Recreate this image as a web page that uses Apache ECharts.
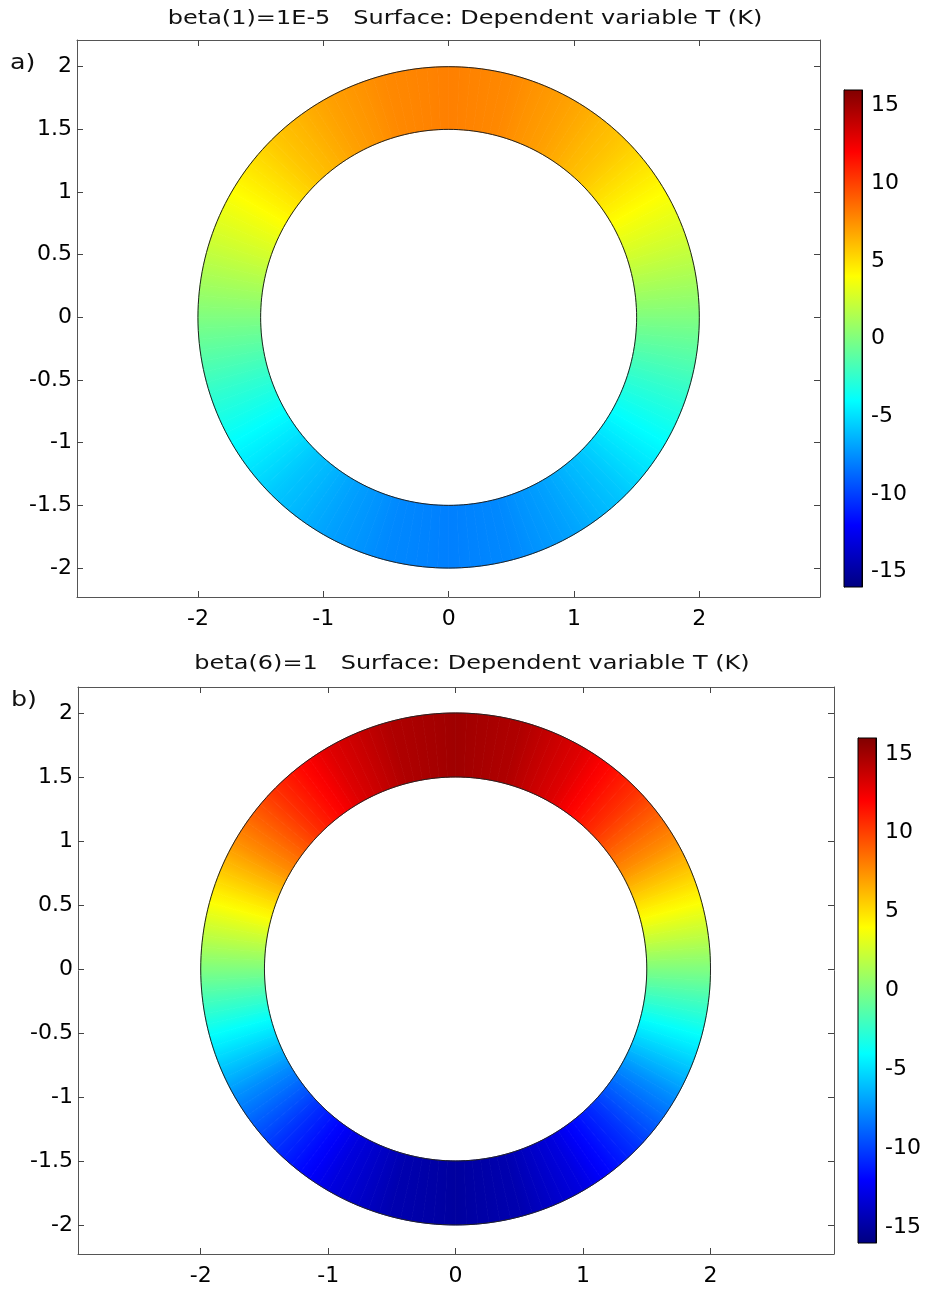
<!DOCTYPE html>
<html>
<head>
    <meta charset="utf-8">
    <title>Surface T</title>
    <script src="https://cdn.jsdelivr.net/npm/echarts@6/dist/echarts.min.js"></script>
    <style>
        html, body {margin: 0; padding: 0; background: #fff;}
        #main {width: 927px; height: 1289px;}
    </style>
</head>
<body>
<div id="main"></div>
<script>
    var angles = [0, 15, 30, 45, 60, 75, 90, 105, 120, 135, 150, 165,
        180, 195, 210, 225, 240, 255, 270, 285, 300, 315, 330, 345];
    var tempA = [0, 2.1, 4.0, 5.7, 6.9, 7.7, 8.0, 7.7, 6.9, 5.7, 4.0, 2.1,
        0, -2.1, -4.0, -5.7, -6.9, -7.7, -8.0, -7.7, -6.9, -5.7, -4.0, -2.1];
    var tempB = [0, 3.9, 7.5, 10.6, 13.0, 14.5, 15.0, 14.5, 13.0, 10.6, 7.5, 3.9,
        0, -3.9, -7.5, -10.6, -13.0, -14.5, -15.0, -14.5, -13.0, -10.6, -7.5, -3.9];
    var radii = [1.5, 2];                 // inner, outer
    var xTicks = [-2, -1, 0, 1, 2];
    var yTicks = [-2, -1.5, -1, -0.5, 0, 0.5, 1, 1.5, 2];
    var cbarTicks = [-15, -10, -5, 0, 5, 10, 15];
    var tRange = [-16, 16];

    var FONT = '"DejaVu Sans", Verdana, sans-serif';

    function clamp(v) { return Math.max(0, Math.min(1, v)); }
    function jet(T) {
        var t = (T - tRange[0]) / (tRange[1] - tRange[0]);
        var r = clamp(1.5 - Math.abs(4 * t - 3));
        var g = clamp(1.5 - Math.abs(4 * t - 2));
        var b = clamp(1.5 - Math.abs(4 * t - 1));
        return 'rgb(' + Math.round(r * 255) + ',' + Math.round(g * 255) + ',' + Math.round(b * 255) + ')';
    }
    var jetStops = [0, 0.125, 0.375, 0.625, 0.875, 1].map(function (s) {
        return {offset: 1 - s, color: jet(tRange[0] + s * (tRange[1] - tRange[0]))};
    });

    function ringData(temps) {
        var out = [];
        for (var i = 0; i < angles.length; i++) {
            var j = (i + 1) % angles.length;
            var a1 = angles[j] + (j === 0 ? 360 : 0);
            out.push([angles[i], a1, temps[i], temps[j]]);
        }
        return out;
    }

    // one sector between two samples, shaded in thin slices so the colour follows the arc
    function renderSector(params, api) {
        var a0 = api.value(0) * Math.PI / 180, a1 = api.value(1) * Math.PI / 180;
        var t0 = api.value(2), t1 = api.value(3);
        var nSlice = 6, m = 3, rm = (radii[0] + radii[1]) / 2;
        var children = [];
        for (var s = 0; s < nSlice; s++) {
            var b0 = a0 + (a1 - a0) * s / nSlice, b1 = a0 + (a1 - a0) * (s + 1) / nSlice;
            var c0 = jet(t0 + (t1 - t0) * s / nSlice), c1 = jet(t0 + (t1 - t0) * (s + 1) / nSlice);
            var pts = [], k, th;
            for (k = 0; k <= m; k++) {
                th = b0 + (b1 - b0) * k / m;
                pts.push(api.coord([radii[1] * Math.cos(th), radii[1] * Math.sin(th)]));
            }
            for (k = m; k >= 0; k--) {
                th = b0 + (b1 - b0) * k / m;
                pts.push(api.coord([radii[0] * Math.cos(th), radii[0] * Math.sin(th)]));
            }
            var p0 = api.coord([rm * Math.cos(b0), rm * Math.sin(b0)]);
            var p1 = api.coord([rm * Math.cos(b1), rm * Math.sin(b1)]);
            var grad = {
                type: 'linear', x: p0[0], y: p0[1], x2: p1[0], y2: p1[1], global: true,
                colorStops: [{offset: 0, color: c0}, {offset: 1, color: c1}]
            };
            children.push({
                type: 'polygon',
                shape: {points: pts},
                style: {fill: grad, stroke: grad, lineWidth: 0.8}
            });
        }
        return {type: 'group', children: children};
    }

    function renderOutline(params, api) {
        var children = [];
        radii.forEach(function (r) {
            var pts = [];
            for (var k = 0; k < 240; k++) {
                var th = 2 * Math.PI * k / 240;
                pts.push(api.coord([r * Math.cos(th), r * Math.sin(th)]));
            }
            children.push({type: 'polygon', shape: {points: pts},
                style: {fill: null, stroke: '#222', lineWidth: 1}});
        });
        return {type: 'group', children: children};
    }

    function renderCbar(params, api) {
        var p0 = api.coord([0, tRange[1]]);
        var p1 = api.coord([1, tRange[0]]);
        return {
            type: 'rect',
            shape: {x: p0[0], y: p0[1], width: p1[0] - p0[0], height: p1[1] - p0[1]},
            style: {fill: new echarts.graphic.LinearGradient(0, 0, 0, 1, jetStops), stroke: '#000', lineWidth: 1}
        };
    }

    var boxLine = {show: true, onZero: false, lineStyle: {color: '#555', width: 1}};
    var boxTick = function (vals) {
        return {show: true, inside: true, length: 6, customValues: vals, lineStyle: {color: '#444'}};
    };
    var lbl = function (vals, margin) {
        return {show: true, customValues: vals, color: '#000', fontSize: 22, fontFamily: FONT, margin: margin};
    };
    var noLbl = {show: false};

    function plotAxes(grid, xr, yr) {
        return {
            x: [
                {type: 'value', gridIndex: grid, position: 'bottom', min: xr[0], max: xr[1],
                    axisLine: boxLine, axisTick: boxTick(xTicks), axisLabel: lbl(xTicks, 11), splitLine: {show: false}},
                {type: 'value', gridIndex: grid, position: 'top', min: xr[0], max: xr[1],
                    axisLine: boxLine, axisTick: boxTick(xTicks), axisLabel: noLbl, splitLine: {show: false}}
            ],
            y: [
                {type: 'value', gridIndex: grid, position: 'left', min: yr[0], max: yr[1],
                    axisLine: boxLine, axisTick: boxTick(yTicks), axisLabel: lbl(yTicks, 5), splitLine: {show: false}},
                {type: 'value', gridIndex: grid, position: 'right', min: yr[0], max: yr[1],
                    axisLine: boxLine, axisTick: boxTick(yTicks), axisLabel: noLbl, splitLine: {show: false}}
            ]
        };
    }

    function cbarAxes(grid) {
        var edge = {show: true, onZero: false, lineStyle: {color: '#000', width: 1}};
        var tk = {show: true, inside: true, length: 3, customValues: cbarTicks, lineStyle: {color: '#000'}};
        return {
            x: [{type: 'value', gridIndex: grid, min: 0, max: 1, show: false}],
            y: [
                {type: 'value', gridIndex: grid, position: 'right', min: tRange[0], max: tRange[1],
                    axisLine: edge, axisTick: tk, axisLabel: lbl(cbarTicks, 9), splitLine: {show: false}},
                {type: 'value', gridIndex: grid, position: 'left', min: tRange[0], max: tRange[1],
                    axisLine: edge, axisTick: tk, axisLabel: noLbl, splitLine: {show: false}}
            ]
        };
    }

    var pa = plotAxes(0, [-2.965, 2.963], [-2.231, 2.213]);
    var ca = cbarAxes(1);
    var pb = plotAxes(2, [-2.963, 2.969], [-2.227, 2.203]);
    var cb = cbarAxes(3);

    var myChart = echarts.init(document.getElementById('main'), null, {renderer: 'canvas'});
    var option = {
        animation: false,
        backgroundColor: '#fff',
        grid: [
            {left: 77, top: 40, width: 743, height: 557},
            {left: 844, top: 90, width: 18, height: 497},
            {left: 78, top: 687, width: 756, height: 567},
            {left: 858, top: 738, width: 18, height: 505}
        ],
        // x: 0,1 plot a | 2 cbar a | 3,4 plot b | 5 cbar b
        xAxis: pa.x.concat(ca.x, pb.x, cb.x),
        // y: 0,1 plot a | 2,3 cbar a | 4,5 plot b | 6,7 cbar b
        yAxis: pa.y.concat(ca.y, pb.y, cb.y),
        series: [
            {type: 'custom', xAxisIndex: 0, yAxisIndex: 0, renderItem: renderSector, data: ringData(tempA), z: 2, silent: true},
            {type: 'custom', xAxisIndex: 0, yAxisIndex: 0, renderItem: renderOutline, data: [[0, 0]], z: 3, silent: true},
            {type: 'custom', xAxisIndex: 2, yAxisIndex: 2, renderItem: renderCbar, data: [[0, 0]], z: 2, silent: true},
            {type: 'custom', xAxisIndex: 3, yAxisIndex: 4, renderItem: renderSector, data: ringData(tempB), z: 2, silent: true},
            {type: 'custom', xAxisIndex: 3, yAxisIndex: 4, renderItem: renderOutline, data: [[0, 0]], z: 3, silent: true},
            {type: 'custom', xAxisIndex: 5, yAxisIndex: 6, renderItem: renderCbar, data: [[0, 0]], z: 2, silent: true}
        ],
        graphic: [
            {type: 'text', x: 465, y: 19, scaleX: 1.2, style: {text: 'beta(1)=1E-5   Surface: Dependent variable T (K)',
                    fontSize: 20, fontFamily: FONT, fill: '#111', align: 'center', verticalAlign: 'middle'}},
            {type: 'text', x: 472, y: 664, scaleX: 1.2, style: {text: 'beta(6)=1   Surface: Dependent variable T (K)',
                    fontSize: 20, fontFamily: FONT, fill: '#111', align: 'center', verticalAlign: 'middle'}},
            {type: 'text', x: 10, y: 63, scaleX: 1.15, style: {text: 'a)', fontSize: 22, fontFamily: FONT, fill: '#111',
                    align: 'left', verticalAlign: 'middle'}},
            {type: 'text', x: 11, y: 700, scaleX: 1.15, style: {text: 'b)', fontSize: 22, fontFamily: FONT, fill: '#111',
                    align: 'left', verticalAlign: 'middle'}}
        ]
    };
    myChart.setOption(option);
</script>
</body>
</html>
